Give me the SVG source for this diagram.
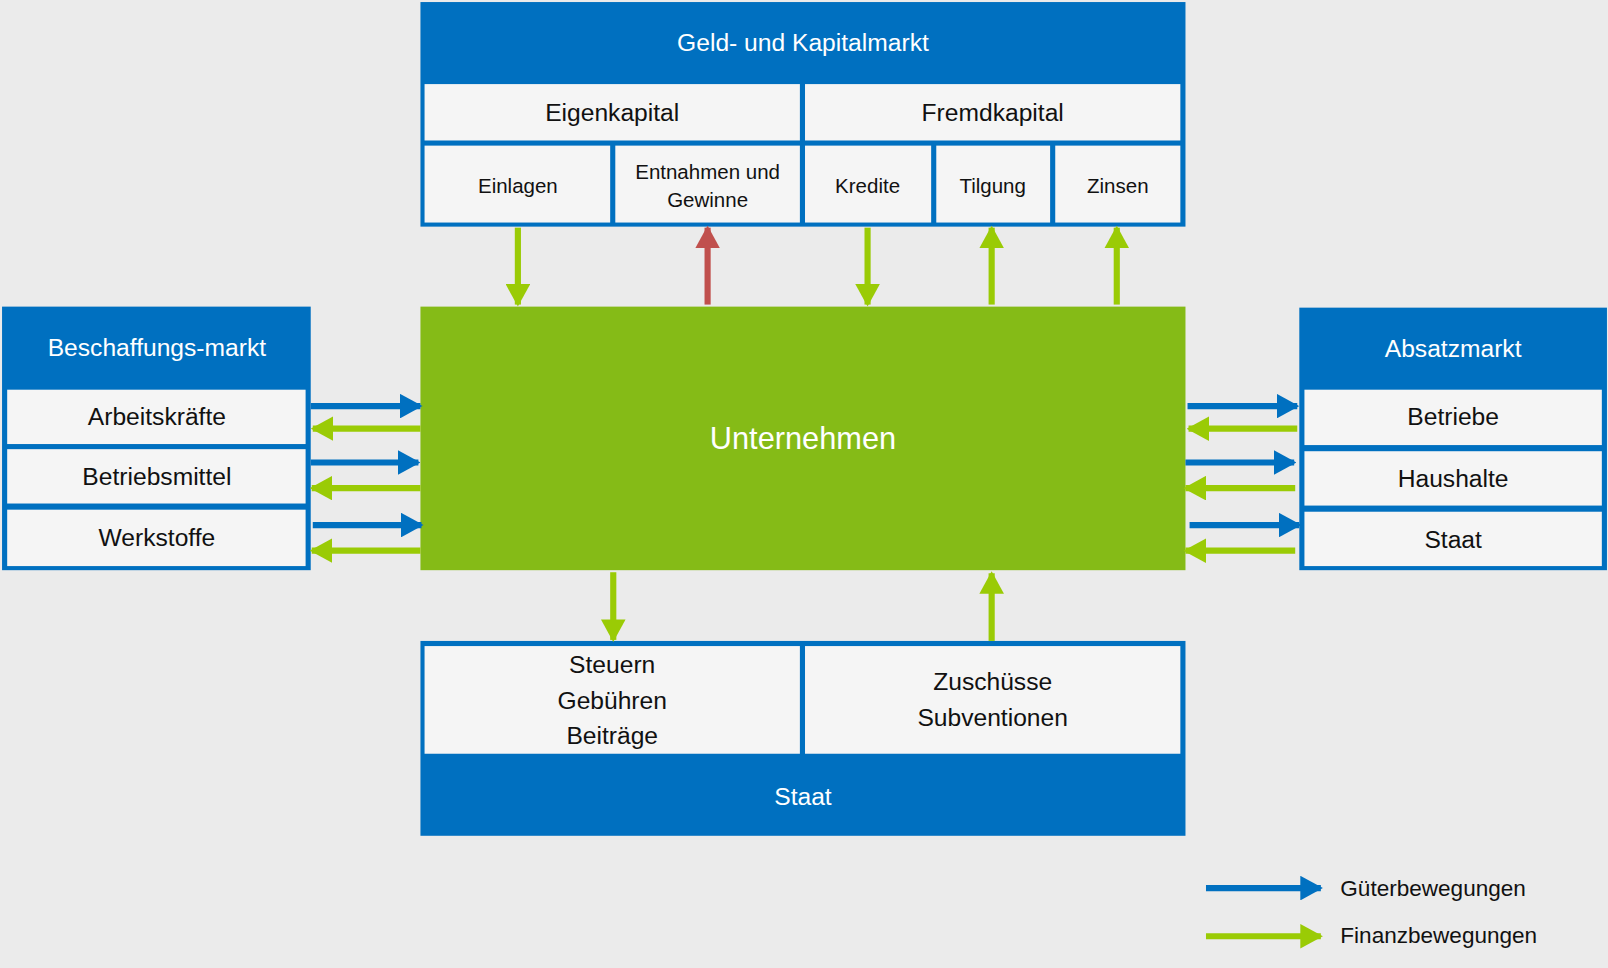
<svg xmlns="http://www.w3.org/2000/svg" width="1608" height="968" viewBox="0 0 1608 968">
<style>
.t{font-family:"Liberation Sans","Noto Sans",sans-serif;text-anchor:middle;dominant-baseline:central}
.w{fill:#fff}.k{fill:#111}
.blue{fill:#0070C0}.cell{fill:#F5F5F5}
.g{stroke:#9ACB05;stroke-width:6;fill:none}
.b{stroke:#0070C0;stroke-width:6;fill:none}
.r{stroke:#C0504D;stroke-width:6;fill:none}
</style>
<defs>
<marker id="mg" markerUnits="userSpaceOnUse" markerWidth="22" markerHeight="24" refX="20" refY="12" orient="auto"><path d="M0,0L22,12L0,24Z" fill="#9ACB05"/></marker>
<marker id="mb" markerUnits="userSpaceOnUse" markerWidth="22" markerHeight="24" refX="20" refY="12" orient="auto"><path d="M0,0L22,12L0,24Z" fill="#0070C0"/></marker>
<marker id="mr" markerUnits="userSpaceOnUse" markerWidth="22" markerHeight="24" refX="20" refY="12" orient="auto"><path d="M0,0L22,12L0,24Z" fill="#C0504D"/></marker>
</defs>
<rect width="1608" height="968" fill="#EBEBEB"/>
<g transform="scale(1.0255)">
<g id="geldmarkt">
<rect class="blue" x="410" y="2" width="746" height="219"/>
<text class="t w" x="783" y="41" font-size="24">Geld- und Kapitalmarkt</text>
<rect class="cell" x="414" y="82" width="366" height="55"/>
<rect class="cell" x="785" y="82" width="366" height="55"/>
<text class="t k" x="597" y="110" font-size="24">Eigenkapital</text>
<text class="t k" x="968" y="110" font-size="24">Fremdkapital</text>
<rect class="cell" x="414" y="142" width="181" height="75"/>
<rect class="cell" x="600" y="142" width="180" height="75"/>
<rect class="cell" x="785" y="142" width="123" height="75"/>
<rect class="cell" x="913" y="142" width="111" height="75"/>
<rect class="cell" x="1029" y="142" width="122" height="75"/>
<text class="t k" x="505" y="181" font-size="20">Einlagen</text>
<text class="t k" x="690" y="167" font-size="20">Entnahmen und</text>
<text class="t k" x="690" y="195" font-size="20">Gewinne</text>
<text class="t k" x="846" y="181" font-size="20">Kredite</text>
<text class="t k" x="968" y="181" font-size="20">Tilgung</text>
<text class="t k" x="1090" y="181" font-size="20">Zinsen</text>
</g>
<g id="unternehmen">
<rect x="410" y="299" width="746" height="257" fill="#85BB17"/>
<text class="t w" x="783" y="428" font-size="30">Unternehmen</text>
</g>
<g id="beschaffung">
<rect class="blue" x="2" y="299" width="301" height="257"/>
<text class="t w" x="153" y="339" font-size="24">Beschaffungs-markt</text>
<rect class="cell" x="7" y="380" width="291" height="53"/>
<rect class="cell" x="7" y="438" width="291" height="53"/>
<rect class="cell" x="7" y="497" width="291" height="55"/>
<text class="t k" x="153" y="406" font-size="24">Arbeitskräfte</text>
<text class="t k" x="153" y="465" font-size="24">Betriebsmittel</text>
<text class="t k" x="153" y="524" font-size="24">Werkstoffe</text>
</g>
<g id="absatz">
<rect class="blue" x="1267" y="300" width="300" height="256"/>
<text class="t w" x="1417" y="340" font-size="24">Absatzmarkt</text>
<rect class="cell" x="1272" y="380" width="290" height="54"/>
<rect class="cell" x="1272" y="440" width="290" height="53"/>
<rect class="cell" x="1272" y="499" width="290" height="53"/>
<text class="t k" x="1417" y="406" font-size="24">Betriebe</text>
<text class="t k" x="1417" y="467" font-size="24">Haushalte</text>
<text class="t k" x="1417" y="526" font-size="24">Staat</text>
</g>
<g id="staat">
<rect class="blue" x="410" y="625" width="746" height="190"/>
<rect class="cell" x="414" y="630" width="366" height="105"/>
<rect class="cell" x="785" y="630" width="366" height="105"/>
<text class="t k" x="597" y="648" font-size="24">Steuern</text>
<text class="t k" x="597" y="683" font-size="24">Gebühren</text>
<text class="t k" x="597" y="717" font-size="24">Beiträge</text>
<text class="t k" x="968" y="665" font-size="24">Zuschüsse</text>
<text class="t k" x="968" y="700" font-size="24">Subventionen</text>
<text class="t w" x="783" y="777" font-size="24">Staat</text>
</g>
<g id="connectors">
<line class="g" x1="505" y1="222" x2="505" y2="297" marker-end="url(#mg)"/>
<line class="r" x1="690" y1="297" x2="690" y2="222" marker-end="url(#mr)"/>
<line class="g" x1="846" y1="222" x2="846" y2="297" marker-end="url(#mg)"/>
<line class="g" x1="967" y1="297" x2="967" y2="222" marker-end="url(#mg)"/>
<line class="g" x1="1089" y1="297" x2="1089" y2="222" marker-end="url(#mg)"/>
<line class="g" x1="598" y1="558" x2="598" y2="624" marker-end="url(#mg)"/>
<line class="g" x1="967" y1="625" x2="967" y2="559" marker-end="url(#mg)"/>
<line class="b" x1="303" y1="396" x2="410" y2="396" marker-end="url(#mb)"/>
<line class="g" x1="410" y1="418" x2="305" y2="418" marker-end="url(#mg)"/>
<line class="b" x1="303" y1="451" x2="408" y2="451" marker-end="url(#mb)"/>
<line class="g" x1="410" y1="476" x2="304" y2="476" marker-end="url(#mg)"/>
<line class="b" x1="305" y1="512" x2="411" y2="512" marker-end="url(#mb)"/>
<line class="g" x1="410" y1="537" x2="304" y2="537" marker-end="url(#mg)"/>
<line class="b" x1="1158" y1="396" x2="1265" y2="396" marker-end="url(#mb)"/>
<line class="g" x1="1265" y1="418" x2="1159" y2="418" marker-end="url(#mg)"/>
<line class="b" x1="1156" y1="451" x2="1262" y2="451" marker-end="url(#mb)"/>
<line class="g" x1="1263" y1="476" x2="1156" y2="476" marker-end="url(#mg)"/>
<line class="b" x1="1160" y1="512" x2="1267" y2="512" marker-end="url(#mb)"/>
<line class="g" x1="1263" y1="537" x2="1156" y2="537" marker-end="url(#mg)"/>
</g>
<g id="legend">
<line class="b" x1="1176" y1="866" x2="1288" y2="866" marker-end="url(#mb)"/>
<line class="g" x1="1176" y1="913" x2="1288" y2="913" marker-end="url(#mg)"/>
<text class="t k" x="1307" y="866" font-size="22" text-anchor="start" style="text-anchor:start">Güterbewegungen</text>
<text class="t k" x="1307" y="912" font-size="22" style="text-anchor:start">Finanzbewegungen</text>
</g>
</g>
</svg>
